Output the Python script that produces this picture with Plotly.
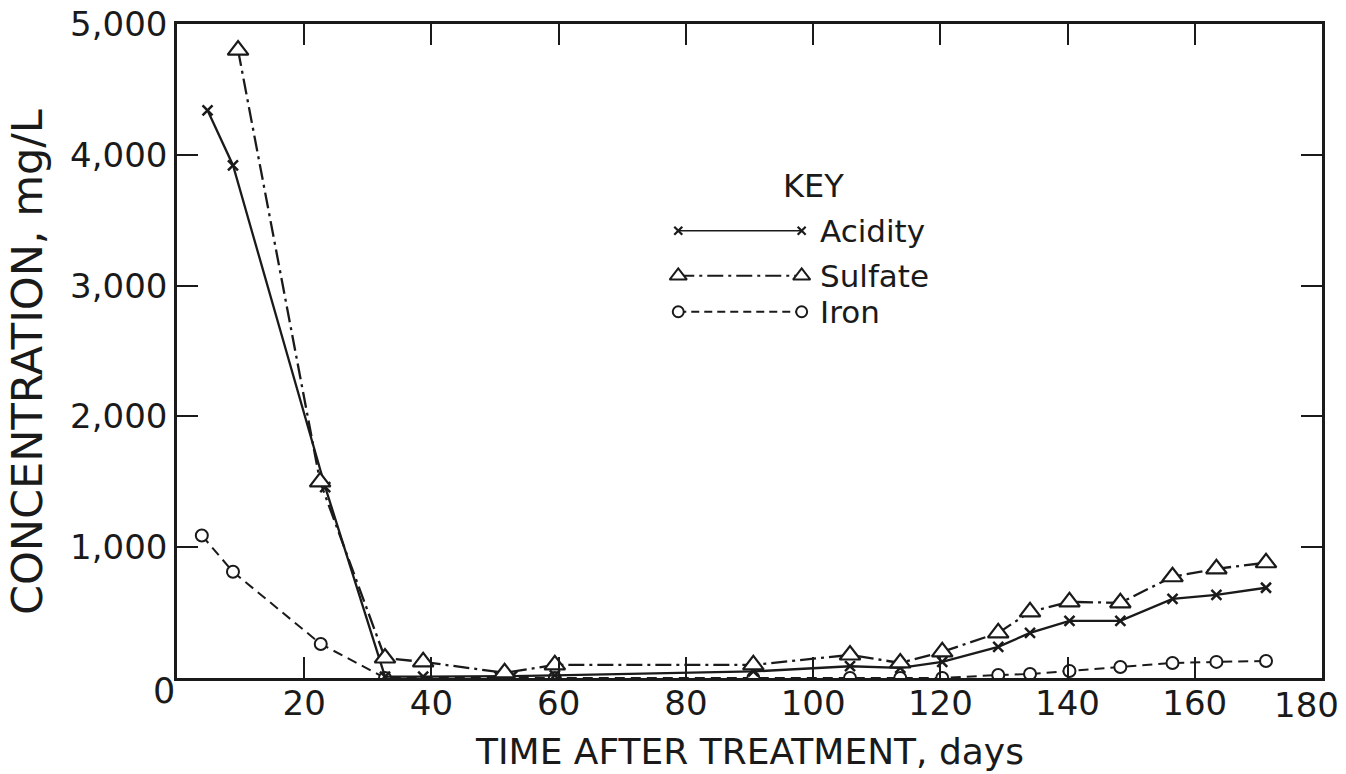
import plotly.graph_objects as go

# ---- data ----
acid_days = [4.8, 8.8, 23.3, 32.7, 38.7, 50.7, 52.7, 59.4, 90.6, 105.8, 113.7, 120.3, 129.1, 134.1, 140.3, 148.3, 156.5, 163.4, 171.2]
acid_vals = [4340, 3920, 1460, 10, 10, 10, 15, 20, 50, 90, 77, 123, 238, 345, 437, 437, 605, 636, 690]

sulf_days = [9.6, 22.5, 32.7, 38.7, 51.5, 59.4, 90.6, 105.8, 113.7, 120.3, 129.1, 134.1, 140.3, 148.3, 156.5, 163.4, 171.2]
sulf_vals = [4800, 1500, 153, 123, 40, 100, 100, 176, 115, 200, 345, 506, 582, 575, 774, 835, 881]

iron_days = [3.9, 8.8, 22.6, 32.7, 59.4, 90.6, 105.8, 113.7, 120.3, 129.1, 134.1, 140.3, 148.3, 156.5, 163.4, 171.2]
iron_vals = [1090, 812, 260, 0, 0, 0, 0, 0, 0, 23, 31, 54, 84, 115, 123, 130]

x_ticks = [20, 40, 60, 80, 100, 120, 140, 160, 180]
x_ticktext = ["20", "40", "60", "80", "100", "120", "140", "160", "180"]
y_ticks = [1000, 2000, 3000, 4000, 5000]
y_ticktext = ["1,000", "2,000", "3,000", "4,000", "5,000"]

series_names = ["Acidity", "Sulfate", "Iron"]
x_title = "TIME AFTER TREATMENT, days"
y_title = "CONCENTRATION, mg/L"

# ---- legend (key) placement, in data units ----
KEY_X = [78.8, 98.2]
KEY_Y = [3420, 3075, 2800]
KEY_HEAD = (100.0, 3760)

INK = "#1a1a1a"
FONT = "DejaVu Sans"
SULF_DASH = "16px,5px,3px,5px"
IRON_DASH = "10px,6px"

fig = go.Figure()

fig.add_trace(go.Scatter(
    x=iron_days, y=iron_vals, mode="lines+markers", showlegend=False,
    line=dict(color=INK, width=2, dash=IRON_DASH),
    marker=dict(symbol="circle", size=12, color="white", line=dict(color=INK, width=2)),
))
fig.add_trace(go.Scatter(
    x=acid_days, y=acid_vals, mode="lines+markers", showlegend=False,
    line=dict(color=INK, width=2.3),
    marker=dict(symbol="x-thin", size=10, color=INK, line=dict(color=INK, width=2.5)),
))
fig.add_trace(go.Scatter(
    x=sulf_days, y=sulf_vals, mode="lines+markers", showlegend=False,
    line=dict(color=INK, width=2.3, dash=SULF_DASH),
    marker=dict(symbol="triangle-up", size=18, color="white", line=dict(color=INK, width=2.2)),
))

# ---- manual key ----
fig.add_trace(go.Scatter(
    x=KEY_X, y=[KEY_Y[0]] * 2, mode="lines+markers", showlegend=False, hoverinfo="skip",
    line=dict(color=INK, width=1.5),
    marker=dict(symbol="x-thin", size=8, color=INK, line=dict(color=INK, width=2.2)),
))
fig.add_trace(go.Scatter(
    x=KEY_X, y=[KEY_Y[1]] * 2, mode="lines+markers", showlegend=False, hoverinfo="skip",
    line=dict(color=INK, width=2, dash=SULF_DASH),
    marker=dict(symbol="triangle-up", size=15, color="white", line=dict(color=INK, width=2)),
))
fig.add_trace(go.Scatter(
    x=KEY_X, y=[KEY_Y[2]] * 2, mode="lines+markers", showlegend=False, hoverinfo="skip",
    line=dict(color=INK, width=1.8, dash="8px,5px"),
    marker=dict(symbol="circle", size=11, color="white", line=dict(color=INK, width=2)),
))

annotations = [
    dict(x=KEY_X[1] + 2.5, y=KEY_Y[i], xref="x", yref="y", text=series_names[i],
         showarrow=False, xanchor="left", yanchor="middle",
         font=dict(family=FONT, size=31, color=INK))
    for i in range(3)
]
annotations.append(dict(x=KEY_HEAD[0], y=KEY_HEAD[1], xref="x", yref="y", text="KEY",
                        showarrow=False, xanchor="center", yanchor="middle",
                        font=dict(family=FONT, size=32, color=INK)))
# shared origin label
annotations.append(dict(x=164, y=774 - 691, xref="paper", yref="paper", text="0",
                        showarrow=False, xanchor="center", yanchor="middle",
                        font=dict(family=FONT, size=35, color=INK)))
# last x label sits left of its tick in the reference (narrow "1")
annotations.append(dict(x=1306, y=774 - 705, xref="paper", yref="paper", text=x_ticktext[-1],
                        showarrow=False, xanchor="center", yanchor="middle",
                        font=dict(family=FONT, size=34, color=INK)))
# axis titles (placed in pixel units of the page)
annotations.append(dict(x=749, y=774 - 751, xref="paper", yref="paper", text=x_title,
                        showarrow=False, xanchor="center", yanchor="middle",
                        font=dict(family=FONT, size=36, color=INK)))
annotations.append(dict(x=27, y=774 - 362, xref="paper", yref="paper", text=y_title,
                        showarrow=False, xanchor="center", yanchor="middle", textangle=-90,
                        font=dict(family=FONT, size=43, color=INK)))

# convert pixel-placed annotations to paper fractions
L, R, T, B = 177, 24, 24, 96
W, H = 1346, 774
PW, PH = W - L - R, H - T - B
for a in annotations:
    if a["xref"] == "paper":
        a["x"] = (a["x"] - L) / PW
        a["y"] = (a["y"] - B) / PH

axis_ticktext = x_ticktext[:-1] + [""]

fig.update_layout(
    width=W, height=H,
    margin=dict(l=L, r=R, t=T, b=B, autoexpand=False),
    paper_bgcolor="white", plot_bgcolor="white",
    showlegend=False,
    annotations=annotations,
    xaxis=dict(
        range=[0, 180.0001], tickmode="array", tickvals=x_ticks, ticktext=axis_ticktext,
        showgrid=False, zeroline=False, showline=True, linecolor=INK, linewidth=2.5,
        mirror="ticks", ticks="inside", ticklen=21, tickwidth=2, tickcolor=INK,
        tickfont=dict(family=FONT, size=34, color=INK), ticklabelstandoff=-7,
        automargin=False,
    ),
    yaxis=dict(
        range=[0, 5000.01], tickmode="array", tickvals=y_ticks, ticktext=y_ticktext,
        showgrid=False, zeroline=False, showline=True, linecolor=INK, linewidth=2.5,
        mirror="ticks", ticks="inside", ticklen=21, tickwidth=2, tickcolor=INK,
        tickfont=dict(family=FONT, size=34, color=INK),
        automargin=False,
    ),
)

fig.write_html("out.html")
